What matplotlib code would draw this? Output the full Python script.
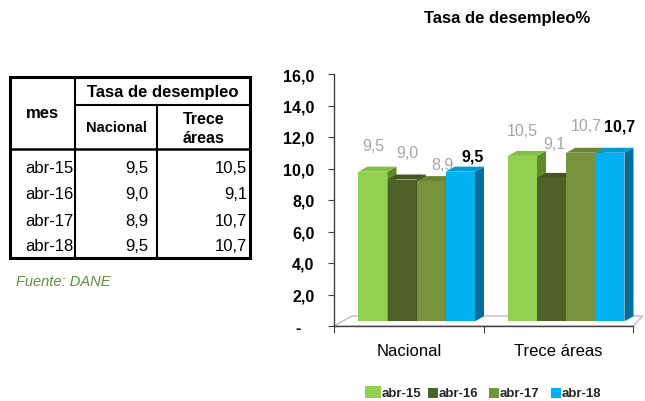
import matplotlib.pyplot as plt
from matplotlib.patches import Polygon, Rectangle
from matplotlib.lines import Line2D

plt.rcParams['font.family'] = ['Liberation Sans', 'DejaVu Sans']

# datos (DANE)
meses = ['abr-15', 'abr-16', 'abr-17', 'abr-18']
regiones = ['Nacional', 'Trece áreas']
nacional = [9.5, 9.0, 8.9, 9.5]
trece = [10.5, 9.1, 10.7, 10.7]
yticks = [0, 2, 4, 6, 8, 10, 12, 14, 16]
ytick_labels = ['-   ', '2,0', '4,0', '6,0', '8,0', '10,0', '12,0', '14,0', '16,0']

# colores: frente, tapa, lado
colores = [('#92D050', '#84BE46', '#5E8C2A'),
           ('#4F6228', '#435422', '#354319'),
           ('#77933C', '#6B8535', '#536828'),
           ('#00B0F0', '#009AD4', '#006F9A')]

# desplazamiento de las etiquetas (px) respecto a la tapa de cada barra
offsets = [[(0, 26), (5, 27), (11, 17), (12, 16)],
           [(0, 25), (3, 34), (6, 27), (10, 27)]]


def fmt(v):
    return f'{v:.1f}'.replace('.', ',')


fig = plt.figure(figsize=(6.45, 4.02), dpi=100)

# capa en pixeles para tabla, titulo y leyenda
ov = fig.add_axes([0, 0, 1, 1])
ov.set_xlim(0, 645)
ov.set_ylim(402, 0)
ov.axis('off')

# ---- tabla ----
L, R, T, B = 10, 250, 78, 259
c1, c2 = 75, 157
h1, h2 = 106, 150
ov.add_patch(Rectangle((L, T), R - L, B - T, fill=False, ec='black', lw=2.2))
for x in (c1, c2):
    y0 = T if x == c1 else h1
    ov.add_line(Line2D([x, x], [y0, B], color='black', lw=1.5))
ov.add_line(Line2D([c1, R], [h1, h1], color='black', lw=1.5))
ov.add_line(Line2D([L, R], [h2, h2], color='black', lw=1.8))

ov.text((c1 + R) / 2, 92, 'Tasa de desempleo', ha='center', va='center', fontsize=12, fontweight='bold')
ov.text((L + c1) / 2, 113, 'mes', ha='center', va='center', fontsize=12, fontweight='bold')
ov.text((c1 + c2) / 2, 128, 'Nacional', ha='center', va='center', fontsize=10.5, fontweight='bold')
ov.text((c2 + R) / 2, 119, 'Trece', ha='center', va='center', fontsize=11.5, fontweight='bold')
ov.text((c2 + R) / 2, 139, 'áreas', ha='center', va='center', fontsize=11.5, fontweight='bold')
filas_y = [169, 195, 222, 247]
tfs = 12
for yy, m, n, t in zip(filas_y, meses, nacional, trece):
    ov.text(c1 - 2, yy, m, ha='right', va='center', fontsize=tfs)
    ov.text(c2 - 9, yy, fmt(n), ha='right', va='center', fontsize=tfs)
    ov.text(R - 3, yy, fmt(t), ha='right', va='center', fontsize=tfs)
ov.text(16, 282, 'Fuente: DANE', ha='left', va='center', fontsize=10.5, style='italic', color='#5E8E3A')

# ---- titulo ----
ov.text(507, 18, 'Tasa de desempleo%', ha='center', va='center', fontsize=12, fontweight='bold')

# ---- leyenda ----
leg_x = [366, 428, 489, 551]
for i, (xx, m) in enumerate(zip(leg_x, meses)):
    if i == 0:
        ov.add_patch(Rectangle((xx - 1, 387), 16, 12, fc=colores[i][0], ec='none'))
        tx = xx + 16
    else:
        ov.add_patch(Rectangle((xx, 389), 10, 10, fc=colores[i][0], ec='none'))
        tx = xx + 11
    ov.text(tx, 394, m, ha='left', va='center', fontsize=9.5, fontweight='bold', color='#262626')

# ---- grafico ----
ax = fig.add_axes([334 / 645, 75 / 402, 299 / 645, 252 / 402])
ax.set_xlim(-0.5, 1.5)
ax.set_ylim(0, 16)
ax.patch.set_visible(False)
for s in ('top', 'right'):
    ax.spines[s].set_visible(False)
for s in ('left', 'bottom'):
    ax.spines[s].set_color('#404040')
    ax.spines[s].set_linewidth(1)

ax.set_yticks(yticks)
ax.set_yticklabels(ytick_labels, fontweight='bold', fontsize=11.5)
ax.tick_params(axis='y', direction='out', length=4, color='#404040', pad=10)
ax.set_xticks([-0.5, 0.5, 1.5])
ax.set_xticklabels(['', '', ''])
ax.tick_params(axis='x', which='major', direction='out', length=5, color='#404040')
ax.set_xticks([0, 1], minor=True)
ax.set_xticklabels(regiones, minor=True, fontsize=12)
ax.tick_params(axis='x', which='minor', length=0, pad=12)

px_x = 2 / 299
px_y = 16 / 252
# piso 3D
piso = [(-0.5, 0), (-0.5 + 18 * px_x, 10 * px_y), (1.5 + 10 * px_x, 10 * px_y), (1.5, 0)]
ax.add_patch(Polygon(piso, closed=True, fc='white', ec='#BFBFBF', lw=1, clip_on=False, zorder=1))

w = 0.195
shift = 0.053
base = 0.3
dx = 9 * px_x
dy = 5 * px_y
z = 2
for g, vals in enumerate([nacional, trece]):
    for i, v in enumerate(vals):
        x0 = g + shift + (i - 2) * w
        x1 = x0 + w
        top = base + v
        fr, tp, sd = colores[i]
        ax.add_patch(Rectangle((x0, base), w, v, fc=fr, ec='none', zorder=z, clip_on=False))
        ax.add_patch(Polygon([(x1, base), (x1 + dx, base + dy), (x1 + dx, top + dy), (x1, top)],
                             closed=True, fc=sd, ec='none', zorder=z, clip_on=False))
        ax.add_patch(Polygon([(x0, top), (x0 + dx, top + dy), (x1 + dx, top + dy), (x1, top)],
                             closed=True, fc=tp, ec='none', zorder=z, clip_on=False))
        z += 1
        ox, oy = offsets[g][i]
        ultimo = i == len(vals) - 1
        ax.annotate(fmt(v), xy=(x0 + w / 2, top), xytext=(ox * 0.72, oy * 0.72),
                    textcoords='offset points', ha='center', va='center', fontsize=11.5,
                    fontweight='bold' if ultimo else 'normal',
                    color='black' if ultimo else '#A6A6A6', zorder=20)

fig.savefig('out.png', dpi=100)
